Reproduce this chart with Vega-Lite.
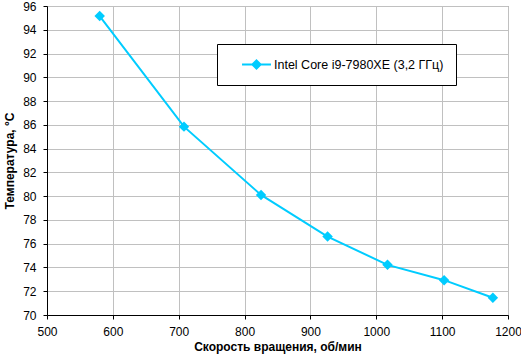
{
  "$schema": "https://vega.github.io/schema/vega-lite/v6.json",
  "autosize": {"type": "none"},
  "width": 461,
  "height": 309,
  "padding": {"left": 47, "top": 6, "right": 13, "bottom": 40},
  "background": "white",
  "config": {
    "view": {"stroke": "#808080", "strokeWidth": 1},
    "font": "Liberation Sans",
    "axis": {
      "domainColor": "black",
      "tickColor": "black",
      "tickSize": 4,
      "gridColor": "#C0C0C0",
      "labelColor": "black",
      "labelFontSize": 12,
      "labelFont": "Liberation Sans",
      "labelOverlap": false,
      "titleFont": "Liberation Sans",
      "titleFontSize": 12,
      "titleFontWeight": "bold",
      "titleColor": "black"
    },
    "axisY": {"labelOverlap": false}
  },
  "data": {
    "values": [
      {"rpm": 580, "temp": 95.15, "cpu": "Intel Core i9-7980XE (3,2 ГГц)"},
      {"rpm": 708, "temp": 85.85, "cpu": "Intel Core i9-7980XE (3,2 ГГц)"},
      {"rpm": 825, "temp": 80.1, "cpu": "Intel Core i9-7980XE (3,2 ГГц)"},
      {"rpm": 926, "temp": 76.6, "cpu": "Intel Core i9-7980XE (3,2 ГГц)"},
      {"rpm": 1017, "temp": 74.22, "cpu": "Intel Core i9-7980XE (3,2 ГГц)"},
      {"rpm": 1103, "temp": 72.93, "cpu": "Intel Core i9-7980XE (3,2 ГГц)"},
      {"rpm": 1177, "temp": 71.45, "cpu": "Intel Core i9-7980XE (3,2 ГГц)"}
    ]
  },
  "encoding": {
    "x": {
      "field": "rpm", "type": "quantitative",
      "scale": {"domain": [500, 1200], "nice": false, "zero": false},
      "axis": {"values": [500, 600, 700, 800, 900, 1000, 1100, 1200], "format": "d", "title": "Скорость вращения, об/мин", "labelPadding": 7, "titlePadding": 4, "labelFlush": false, "labelOverlap": false}
    },
    "y": {
      "field": "temp", "type": "quantitative",
      "scale": {"domain": [70, 96], "nice": false, "zero": false},
      "axis": {"values": [70, 72, 74, 76, 78, 80, 82, 84, 86, 88, 90, 92, 94, 96], "format": "d", "title": "Температура, °C", "labelPadding": 7, "titlePadding": 6, "labelFlush": false, "labelOverlap": false, "labelBound": false}
    },
    "color": {
      "field": "cpu", "type": "nominal",
      "scale": {"range": ["#00CCFF"]},
      "legend": {
        "title": null,
        "orient": "none",
        "legendX": 170,
        "legendY": 38,
        "padding": 12,
        "symbolOffset": 19,
        "strokeColor": "black",
        "fillColor": "white",
        "symbolType": "M-1.93,0L1.93,0M0,-0.55L0.55,0L0,0.55L-0.55,0Z",
        "symbolSize": 225,
        "symbolStrokeWidth": 2,
        "symbolFillColor": "#00CCFF",
        "symbolStrokeColor": "#00CCFF",
        "labelFontSize": 12.5,
        "labelFont": "Liberation Sans",
        "labelColor": "black",
        "labelOffset": 9,
        "labelLimit": 400
      }
    }
  },
  "layer": [
    {"mark": {"type": "line", "interpolate": "linear", "strokeWidth": 2}},
    {"mark": {"type": "point", "shape": "diamond", "filled": true, "size": 110, "opacity": 1}}
  ]
}
